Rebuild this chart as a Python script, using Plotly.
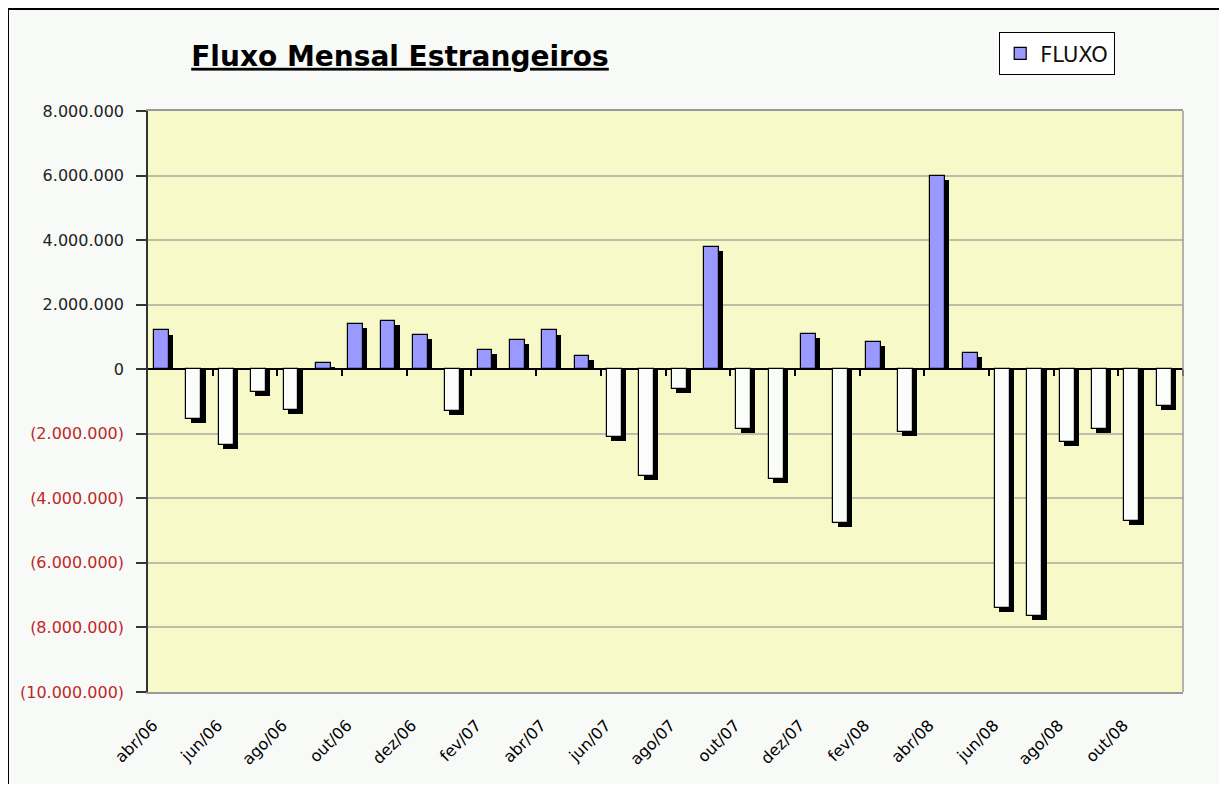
import plotly.graph_objects as go

months = ["abr/06","mai/06","jun/06","jul/06","ago/06","set/06","out/06","nov/06","dez/06",
          "jan/07","fev/07","mar/07","abr/07","mai/07","jun/07","jul/07","ago/07","set/07",
          "out/07","nov/07","dez/07","jan/08","fev/08","mar/08","abr/08","mai/08","jun/08",
          "jul/08","ago/08","set/08","out/08","nov/08"]
fluxo = [1200000, -1550000, -2350000, -700000, -1250000, 180000, 1400000, 1500000, 1050000,
         -1300000, 600000, 900000, 1200000, 400000, -2100000, -3300000, -600000, 3800000,
         -1850000, -3400000, 1100000, -4750000, 850000, -1950000, 6000000, 500000, -7400000,
         -7650000, -2250000, -1850000, -4700000, -1150000]

ytick_vals = [8e6, 6e6, 4e6, 2e6, 0, -2e6, -4e6, -6e6, -8e6, -10e6]
ytick_text = ["8.000.000", "6.000.000", "4.000.000", "2.000.000", "0",
              "(2.000.000)", "(4.000.000)", "(6.000.000)", "(8.000.000)", "(10.000.000)"]
ytick_text = [t if not t.startswith("(") else '<span style="color:#BE2828">%s</span>' % t
              for t in ytick_text]
xtick_labels = months[::2]

n = len(months)
x_idx = list(range(n))
shadow_shift = 125000
face_colors = ["#9999FF" if v >= 0 else "#FBFDFB" for v in fluxo]
shadow_vals = [v - shadow_shift for v in fluxo]

W, H = 1211, 776
L, R, T, B = 140, 36, 103, 92
pw, ph = W - L - R, H - T - B

FONT = "DejaVu Sans, Liberation Sans, Arial, sans-serif"

fig = go.Figure()
fig.add_trace(go.Bar(
    x=x_idx, y=shadow_vals, base=[0] * n,
    width=0.46, offset=-0.18, marker=dict(color="black", line=dict(width=0)),
    showlegend=False, hoverinfo="skip"))
fig.add_trace(go.Bar(
    x=x_idx, y=fluxo, name="FLUXO", width=0.46, offset=-0.31,
    marker=dict(color=face_colors, line=dict(color="black", width=1.2))))
# invisible trace to carry the axis drawn along zero
fig.add_trace(go.Scatter(x=[0], y=[0], xaxis="x2", mode="markers",
                         marker=dict(opacity=0), showlegend=False, hoverinfo="skip"))

fig.update_layout(
    width=W, height=H,
    margin=dict(l=L, r=R, t=T, b=B, autoexpand=False),
    paper_bgcolor="#F8FAF8", plot_bgcolor="#F8F9C8",
    barmode="overlay", bargap=0,
    font=dict(family=FONT, color="black"),
    title=dict(text="<b><u>Fluxo Mensal Estrangeiros</u></b>", x=392/W, xanchor="center",
               y=1-48/H, yanchor="middle", yref="container",
               font=dict(size=28, color="black", family=FONT)),
    legend=dict(x=(991-L)/pw, y=(H - B - 24)/ph, xanchor="left", yanchor="top",
                bgcolor="#FFFFFF", bordercolor="black", borderwidth=1.2,
                font=dict(size=21, color="#111111"), itemwidth=30,
                tracegroupgap=0),
    xaxis=dict(range=[-0.5, n-0.5], tickmode="array", automargin=False,
               tickvals=x_idx[::2], ticktext=xtick_labels, tickangle=-45,
               tickfont=dict(size=16), showgrid=False, zeroline=False,
               ticks="", showline=True, linecolor="#9A9A9A", linewidth=1.5, mirror=True,
               ticklabelstandoff=16, ticklabelshift=-11),
    xaxis2=dict(range=[-0.5, n-0.5], overlaying="x", anchor="free", automargin=False,
                position=10/18, side="bottom", tickmode="array",
                tickvals=[i + 1.5 for i in range(0, n - 1, 2)], ticktext=[""] * 16,
                ticks="outside", ticklen=6, tickwidth=1.5, tickcolor="black",
                showline=True, linecolor="black", linewidth=1.5,
                showgrid=False, zeroline=False, layer="below traces"),
    yaxis=dict(range=[-10e6, 8e6], tickmode="array", tickvals=ytick_vals, automargin=False,
               ticktext=ytick_text, tickfont=dict(size=16, color="#222222"),
               showgrid=True, gridcolor="#BEBEA8", gridwidth=1.5,
               zeroline=False,
               showline=True, linecolor="#333333", linewidth=1.5,
               ticks="outside", ticklen=10, tickcolor="#333333", tickwidth=1.5,
               ticklabelstandoff=9),
    shapes=[
        dict(type="rect", xref="paper", yref="paper",
             x0=(0 - L)/pw, x1=(W + 40 - L)/pw, y0=-(B + 40)/ph, y1=(ph + T - 1)/ph,
             line=dict(color="black", width=2), fillcolor="rgba(0,0,0,0)", layer="below"),
        dict(type="line", xref="paper", yref="paper", x0=1, x1=1, y0=0, y1=1,
             line=dict(color="#9A9A9A", width=1.5)),
    ],
)

fig.write_html("out.html")
